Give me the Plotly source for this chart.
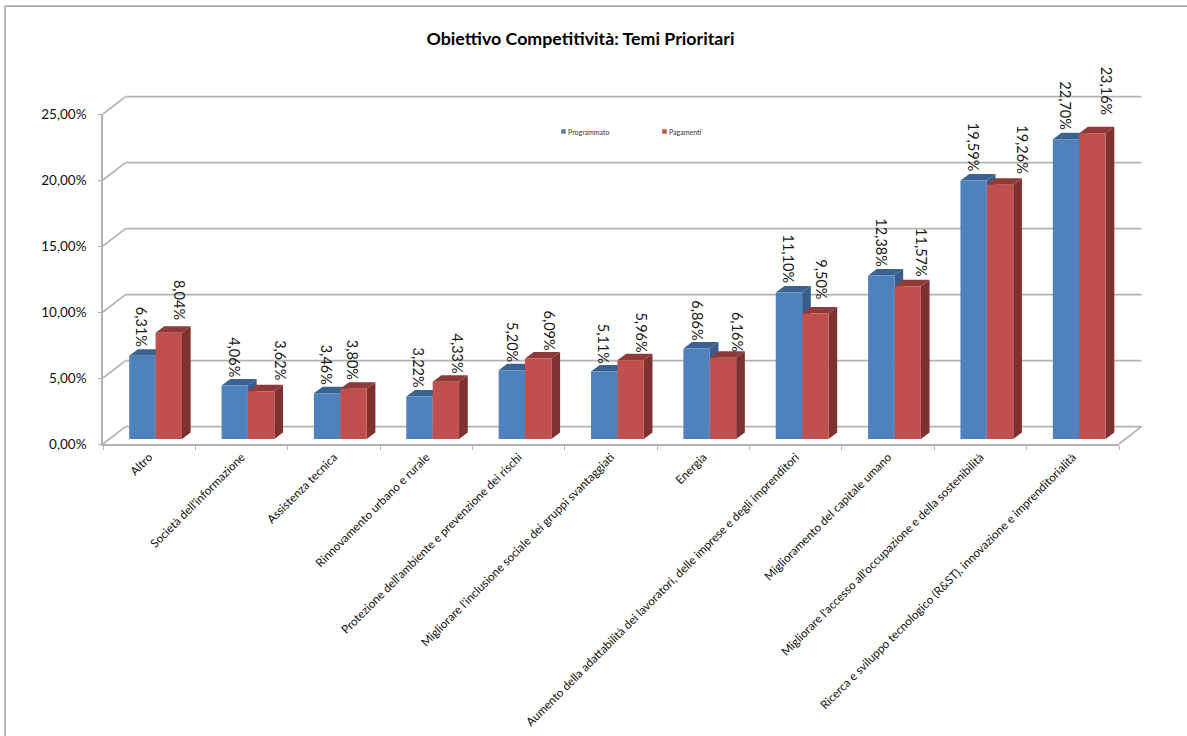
import plotly.graph_objects as go

# ---------- data ----------
categories = [
    "Altro",
    "Società dell'informazione",
    "Assistenza tecnica",
    "Rinnovamento urbano e rurale",
    "Protezione dell'ambiente e prevenzione dei rischi",
    "Migliorare l'inclusione sociale dei gruppi svantaggiati",
    "Energia",
    "Aumento della adattabilità dei lavoratori, delle imprese e degli imprenditori",
    "Miglioramento del capitale umano",
    "Migliorare l'accesso all'occupazione e della sostenibilità",
    "Ricerca e sviluppo tecnologico (R&ST), innovazione e imprenditorialità",
]
programmato = [6.31, 4.06, 3.46, 3.22, 5.20, 5.11, 6.86, 11.10, 12.38, 19.59, 22.70]
pagamenti = [8.04, 3.62, 3.80, 4.33, 6.09, 5.96, 6.16, 9.50, 11.57, 19.26, 23.16]
y_ticks = [0, 5, 10, 15, 20, 25]
y_tick_labels = ["0,00%", "5,00%", "10,00%", "15,00%", "20,00%", "25,00%"]
title_text = "Obiettivo Competitività: Temi Prioritari"

# value-label placement (px relative to bar)
blue_label_dx = [-1, -1, -1, -1, 0, 0, 0, 0, 0, 0, 0]
blue_label_gap = [8.5, 8.5, 8.5, 8.5, 8.5, 7.5, 8.5, 8.5, 8.5, 8.5, 9.5]
red_label_dx = [10.7, 19.4, -1, 11.4, 11.4, 10.8, 14.8, 6.5, 13.8, 22.5, 14.2]
red_label_gap = [12.5, 11.5, 9.5, 8.1, 8.5, 7.5, 6, 14.5, 9.2, 10.5, 17.5]

# ---------- geometry (px) ----------
W, H = 1187, 736
L, R, T, B = 102.5, 1119.0, 114.3, 444.0
PX_X = (R - L) / len(categories)
PX_Y = (B - T) / 25.0
WALL_DX, WALL_DY = 22.5, 17.4
BAR_W = 26.4 / PX_X
BLUE_OFF = -20.0 / PX_X
RED_OFF = BLUE_OFF + BAR_W
FLOOR = 5.0 / PX_Y
SIDE_DX, SIDE_DY = 8.7 / PX_X, 6.5 / PX_Y

BLUE, RED = "#4F81BD", "#C0504D"
BLUE_TOP, BLUE_SIDE = "#3C6291", "#385D8A"
RED_TOP, RED_SIDE = "#8F3A38", "#7D3231"
GRID = "#B2B2B2"
FONT = "Lato"


def px(x):
    return (x - L) / (R - L)


def py(y):
    return (B - y) / (B - T)


def faces(values, off):
    sx, sy, tx, ty = [], [], [], []
    for i, v in enumerate(values):
        x0, x1 = i + off, i + off + BAR_W
        top = v + FLOOR
        sx += [x1, x1 + SIDE_DX, x1 + SIDE_DX, x1, x1, None]
        sy += [FLOOR, FLOOR + SIDE_DY, top + SIDE_DY, top, FLOOR, None]
        tx += [x0, x0 + SIDE_DX, x1 + SIDE_DX, x1, x0, None]
        ty += [top, top + SIDE_DY, top + SIDE_DY, top, top, None]
    return sx, sy, tx, ty


def poly(x, y, color):
    return go.Scatter(x=x, y=y, mode="lines", fill="toself", fillcolor=color,
                      line=dict(width=0, color=color), hoverinfo="skip",
                      showlegend=False, xaxis="x", yaxis="y")


fig = go.Figure()

bs, bsy, bt, bty = faces(programmato, BLUE_OFF)
rs, rsy, rt, rty = faces(pagamenti, RED_OFF)
fig.add_trace(poly(bs, bsy, BLUE_SIDE))
fig.add_trace(poly(bt, bty, BLUE_TOP))
fig.add_trace(poly(rs, rsy, RED_SIDE))
fig.add_trace(poly(rt, rty, RED_TOP))

fig.add_trace(go.Bar(x=categories, y=programmato, base=FLOOR, name="Programmato",
                     width=BAR_W, offset=BLUE_OFF, marker=dict(color=BLUE, line=dict(width=0)),
                     xaxis="x2", yaxis="y2", showlegend=False))
fig.add_trace(go.Bar(x=categories, y=pagamenti, base=FLOOR, name="Pagamenti",
                     width=BAR_W, offset=RED_OFF, marker=dict(color=RED, line=dict(width=0)),
                     xaxis="x2", yaxis="y2", showlegend=False))

# ---------- frame: back wall, left wall, floor ----------
shapes = []
ddx, ddy = WALL_DX / (R - L), WALL_DY / (B - T)
line = dict(color=GRID, width=1.6)
for t in y_ticks:
    f = t / 25.0
    shapes.append(dict(type="line", xref="paper", yref="paper", layer="below",
                       x0=0, y0=f, x1=ddx, y1=f + ddy, line=line))
    shapes.append(dict(type="line", xref="paper", yref="paper", layer="below",
                       x0=ddx, y0=f + ddy, x1=1 + ddx, y1=f + ddy, line=line))
shapes.append(dict(type="line", xref="paper", yref="paper", layer="below",
                   x0=1, y0=0, x1=1 + ddx, y1=ddy, line=line))
# chart-area border
border = dict(color="#A6A6A6", width=1.6)
shapes.append(dict(type="line", xref="paper", yref="paper", layer="below",
                   x0=px(4.5), y0=py(6.5), x1=px(4.5), y1=py(736), line=border))
shapes.append(dict(type="line", xref="paper", yref="paper", layer="below",
                   x0=px(4.5), y0=py(6.5), x1=px(1187), y1=py(6.5), line=border))
# legend swatches
shapes.append(dict(type="rect", xref="paper", yref="paper", x0=px(561), x1=px(565.5),
                   y0=py(129.5), y1=py(134), fillcolor=BLUE, line=dict(width=0)))
shapes.append(dict(type="rect", xref="paper", yref="paper", x0=px(662), x1=px(666.5),
                   y0=py(129.5), y1=py(134), fillcolor=RED, line=dict(width=0)))

# ---------- text ----------
annotations = []


def fmt(v):
    return f"{v:.2f}".replace(".", ",") + "%"


for i, v in enumerate(programmato):
    annotations.append(dict(x=i + BLUE_OFF + BAR_W / 2, y=v + FLOOR, xref="x", yref="y",
                            text=fmt(v), showarrow=False, textangle=90, xanchor="center",
                            yanchor="bottom", xshift=blue_label_dx[i], yshift=blue_label_gap[i],
                            font=dict(family=FONT, size=14.5, color="#1a1a1a"),
                            borderpad=0, borderwidth=0))
for i, v in enumerate(pagamenti):
    annotations.append(dict(x=i + RED_OFF + BAR_W / 2, y=v + FLOOR, xref="x", yref="y",
                            text=fmt(v), showarrow=False, textangle=90, xanchor="center",
                            yanchor="bottom", xshift=red_label_dx[i], yshift=red_label_gap[i],
                            font=dict(family=FONT, size=14.5, color="#1a1a1a"),
                            borderpad=0, borderwidth=0))
for name, x0 in (("Programmato", 567), ("Pagamenti", 668)):
    annotations.append(dict(x=px(x0), y=py(131.8), xref="paper", yref="paper", text=name,
                            showarrow=False, xanchor="left", yanchor="middle",
                            font=dict(family=FONT, size=7, color="#333333"), borderpad=0))

fig.update_layout(
    width=W, height=H, autosize=False,
    margin=dict(l=L, r=W - R, t=T, b=H - B, pad=0),
    paper_bgcolor="white", plot_bgcolor="rgba(0,0,0,0)",
    barmode="overlay", showlegend=False,
    title=dict(text=f"<b>{title_text}</b>", x=580.5 / W, xref="container",
               xanchor="center", y=1 - 39 / H, yanchor="middle",
               font=dict(family=FONT, size=17.8, color="#000000")),
    font=dict(family=FONT, color="#000000"),
    shapes=shapes, annotations=annotations,
    xaxis=dict(range=[-0.5, len(categories) - 0.5], visible=False, domain=[0, 1]),
    yaxis=dict(range=[0, 25], visible=False, domain=[0, 1]),
    xaxis2=dict(overlaying="x", anchor="y2", type="category", categoryorder="array",
                categoryarray=categories, range=[-0.5, len(categories) - 0.5],
                tickson="boundaries", ticks="outside", ticklen=4, tickwidth=1, tickcolor=GRID,
                showline=True, linecolor=GRID, linewidth=1.6, showgrid=False, tickangle=-45,
                tickfont=dict(family=FONT, size=11.7, color="#111111"), automargin=False,
                zeroline=False),
    yaxis2=dict(overlaying="y", anchor="x2", side="left", range=[0, 25], tickmode="array",
                tickvals=y_ticks, ticktext=y_tick_labels, ticks="outside", ticklen=3, tickwidth=1,
                tickcolor=GRID, showline=True, linecolor=GRID, linewidth=1.6, showgrid=False,
                zeroline=False, tickfont=dict(family=FONT, size=13.5, color="#111111"),
                ticklabelstandoff=9, automargin=False),
)

fig.write_html("out.html", config=dict(displayModeBar=False),
               post_script="document.body.style.margin='0';document.body.style.overflow='hidden';")
